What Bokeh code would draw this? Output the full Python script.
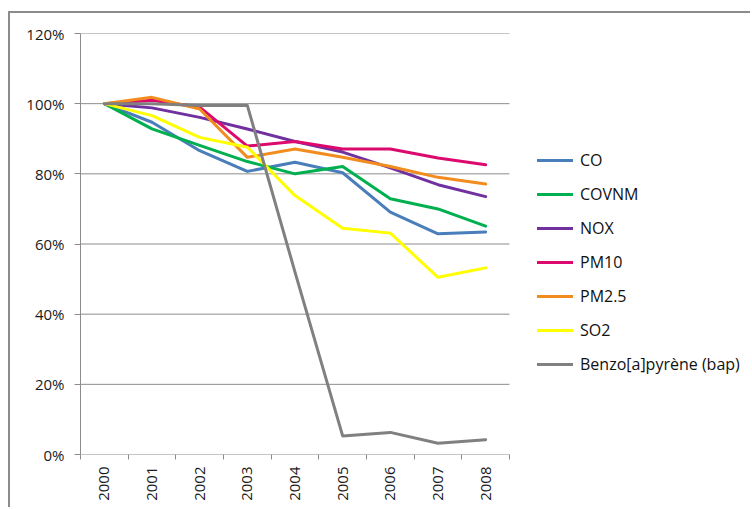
from bokeh.plotting import figure
from bokeh.models import Legend, LegendItem, FixedTicker, NumeralTickFormatter, Range1d
from bokeh.embed import file_html
from bokeh.resources import INLINE
import math

years = ["2000", "2001", "2002", "2003", "2004", "2005", "2006", "2007", "2008"]
series_names = ["CO", "COVNM", "NOX", "PM10", "PM2.5", "SO2", "Benzo[a]pyrène (bap)"]
co = [1.00, 0.947, 0.866, 0.807, 0.833, 0.803, 0.691, 0.629, 0.634]
covnm = [1.00, 0.928, 0.881, 0.835, 0.800, 0.821, 0.729, 0.700, 0.651]
nox = [1.00, 0.988, 0.961, 0.928, 0.892, 0.862, 0.817, 0.769, 0.735]
pm10 = [1.00, 1.010, 0.990, 0.879, 0.892, 0.871, 0.871, 0.845, 0.826]
pm25 = [1.00, 1.018, 0.985, 0.847, 0.871, 0.847, 0.821, 0.790, 0.771]
so2 = [1.00, 0.966, 0.904, 0.876, 0.738, 0.645, 0.631, 0.505, 0.532]
bap = [1.00, 1.00, 0.995, 0.995, 0.52, 0.053, 0.063, 0.032, 0.042]
y_ticks = [0.0, 0.2, 0.4, 0.6, 0.8, 1.0, 1.2]

colors = ["#4A7EBB", "#00B050", "#7030A0", "#DC0A6E", "#F28C1E", "#FFFF00", "#808080"]
values = [co, covnm, nox, pm10, pm25, so2, bap]

FONT = "Open Sans"
GRID = "#8c8c8c"
n = len(years)
cat_px = 429 / n          # width of one category in pixels
frame_w = 672
x_end = -0.5 + frame_w / cat_px

p = figure(width=742, height=496, output_backend="svg", toolbar_location=None,
           x_range=Range1d(-0.5, x_end), y_range=Range1d(0, 1.2),
           min_border_left=70, min_border_right=0, min_border_top=20, min_border_bottom=55)
p.styles = {"border-top": "2px solid #8c8c8c", "border-left": "2px solid #8c8c8c",
            "margin-left": "8px", "margin-top": "11px"}
p.outline_line_color = None
p.background_fill_color = "white"
p.border_fill_color = "white"

# gridlines only across the category area
p.segment(x0=[-0.5] * len(y_ticks), x1=[n - 0.5] * len(y_ticks), y0=y_ticks, y1=y_ticks,
          line_color=GRID, line_width=1)

xs = list(range(n))
items = []
for name, vals, col in zip(series_names, values, colors):
    r = p.line(xs, vals, line_color=col, line_width=3, line_join="round", line_cap="round")
    items.append(LegendItem(label=name, renderers=[r]))

# x axis
p.xaxis.ticker = FixedTicker(ticks=xs, minor_ticks=[i - 0.5 for i in range(n + 1)])
p.xaxis.major_label_overrides = {i: y for i, y in enumerate(years)}
p.xaxis.major_tick_out = 0
p.xaxis.major_tick_in = 0
p.xaxis.minor_tick_out = 5
p.xaxis.minor_tick_in = 0
p.xaxis.minor_tick_line_color = GRID
p.xaxis.axis_line_color = None
p.xaxis.major_label_orientation = math.pi / 2
p.xaxis.major_label_standoff = 7
p.xaxis.major_label_text_font = FONT
p.xaxis.major_label_text_font_size = "15px"
p.xaxis.major_label_text_color = "#1a1a1a"
p.xgrid.grid_line_color = None

# y axis
p.yaxis.ticker = FixedTicker(ticks=y_ticks)
p.yaxis.formatter = NumeralTickFormatter(format="0%")
p.yaxis.major_tick_out = 6
p.yaxis.major_tick_in = 0
p.yaxis.minor_tick_line_color = None
p.yaxis.major_tick_line_color = GRID
p.yaxis.axis_line_color = GRID
p.yaxis.major_label_standoff = 10
p.yaxis.major_label_text_font = FONT
p.yaxis.major_label_text_font_size = "15px"
p.yaxis.major_label_text_color = "#1a1a1a"
p.ygrid.grid_line_color = None

legend = Legend(items=items, location=(457, 79), orientation="vertical",
                padding=0, margin=0, spacing=12, glyph_width=36, glyph_height=20,
                label_height=20, label_standoff=7,
                label_text_font=FONT, label_text_font_size="16px", label_text_color="#111111",
                border_line_color=None, background_fill_alpha=0)
p.add_layout(legend, "center")

open("out.html", "w").write(file_html(p, INLINE))
